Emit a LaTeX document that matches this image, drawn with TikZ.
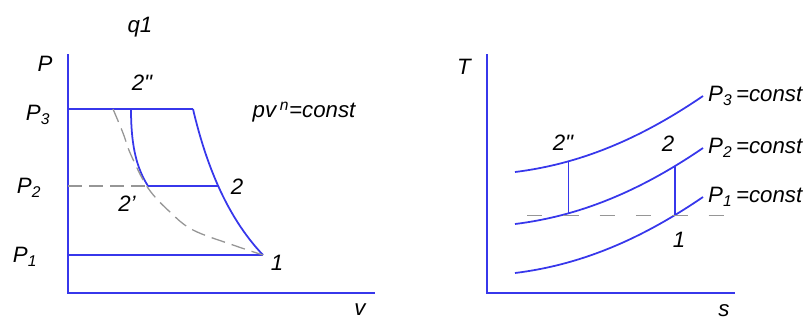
\documentclass[tikz,border=0pt]{standalone}
\usepackage{fontspec}
\setmainfont{Liberation Sans}
\usepackage{xcolor}
\usetikzlibrary{calc}
\definecolor{lblue}{RGB}{55,55,235}
\definecolor{lgray}{RGB}{150,150,150}

\begin{document}
\begin{tikzpicture}[x=0.03cm,y=-0.03cm,
  ln/.style={draw=lblue,line width=1.5pt},
  dsh/.style={draw=lgray,line width=1.1pt,dash pattern=on 12pt off 6pt},
  lb/.style={font=\fontsize{19}{22}\selectfont\itshape,inner sep=0pt}]
\useasboundingbox (0,0) rectangle (808,322);
% p-v diagram
\coordinate (ytop1) at (68,54);
\coordinate (o1) at (68,293);
\coordinate (xend1) at (375,293);
\draw[ln] (ytop1) -- (o1) -- (xend1);
\coordinate (a3) at (68,109); \coordinate (d3) at (113,109);
\coordinate (c3) at (131,109); \coordinate (b3) at (193,109);
\coordinate (a2) at (68,186); \coordinate (c2) at (148,186);
\coordinate (a1) at (68,255); \coordinate (pt1) at (263,255);
\draw[ln] (a3) -- (b3);
\draw[ln] (a1) -- (pt1);
\draw[ln] (b3) .. controls (205,160) and (225,215) .. (pt1) coordinate[pos=0.5] (b2);
\draw[ln] (c3) .. controls (131,150) and (138,170) .. (c2);
\draw[ln] (c2) -- (c2 -| b2);
\draw[dsh] (a2) -- (c2);
\draw[dsh] plot[smooth,tension=0.6] coordinates {(d3) (123,133) (131,155) (148,188) (170,212) (193,230) (233,245) (pt1)};
\node[lb] (q) at (140,27) {q1};
\node[lb] (pax) at (45,64) {P};
\node[lb] (vax) at (360,310) {v};
\node[lb] (lp3) at (38,115) {P\textsubscript{3}};
\node[lb] (lp2) at (29,188) {P\textsubscript{2}};
\node[lb] (lp1) at (25,257) {P\textsubscript{1}};
\node[lb] (l2b) at (142,83) {2\textquotedbl};
\node[lb] (l2) at (237,187) {2};
\node[lb] (l2a) at (127,204) {2'};
\node[lb] (l1) at (277,263) {1};
\node[lb] (pvn) at (304,112) {pv\,\textsuperscript{n}=const};
% T-s diagram
\coordinate (ytop2) at (487,54);
\coordinate (o2) at (487,293);
\coordinate (xend2) at (735,293);
\draw[ln] (ytop2) -- (o2) -- (xend2);
\foreach \i/\dy in {1/0,2/49,3/101}{
  \draw[ln] (515,273-\dy) .. controls (580,265-\dy) and (640,240-\dy) .. (703,197-\dy)
    coordinate[pos=0.28] (i\i a) coordinate[pos=0.85] (i\i b);
  \node[lb,anchor=west] (iso\i) at (708,197-\dy) {P\textsubscript{\i}\,=const};}
\draw[ln] (i2a) -- (i3a);
\draw[ln] (i2b) -- (i1b);
\coordinate (dl) at (527,215);
\draw[dsh,dash pattern=on 13pt off 18pt] (dl |- i1b) -- (xend2 |- i1b);
\node[lb] (tax) at (464,67) {T};
\node[lb] (sax) at (724,311) {s};
\node[lb] (r2b) at (563,143) {2\textquotedbl};
\node[lb] (r2) at (668,144) {2};
\node[lb] (r1) at (679,240) {1};
\end{tikzpicture}
\end{document}
